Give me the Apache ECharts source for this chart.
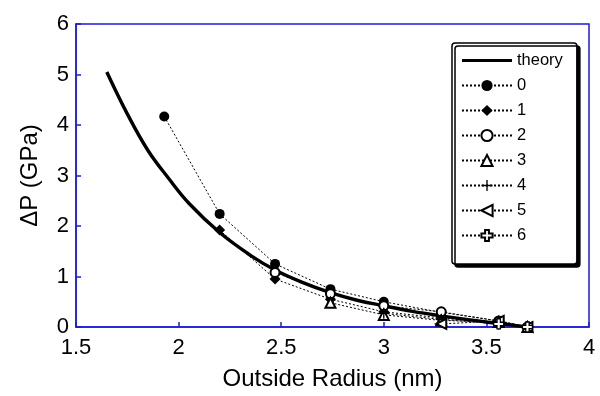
<!DOCTYPE html>
<html>
<head>
<meta charset="utf-8">
<script src="https://cdn.jsdelivr.net/npm/echarts@6/dist/echarts.min.js"></script>
<style>
  html, body { margin: 0; padding: 0; background: #fff; }
  #chart { width: 600px; height: 396px; }
</style>
</head>
<body>
<div id="chart"></div>
<script>
// theory curve
const theoryR = [1.65, 1.75, 1.85, 1.95, 2.05, 2.2, 2.35, 2.47, 2.6, 2.74, 2.87, 3.0, 3.14, 3.28, 3.42, 3.56, 3.7];
const theoryP = [5.05, 4.22, 3.5, 2.95, 2.45, 1.87, 1.42, 1.13, 0.89, 0.68, 0.53, 0.42, 0.31, 0.22, 0.14, 0.07, 0];

// simulated points; null = no point at that radius
const radii = [1.93, 2.2, 2.47, 2.74, 3.0, 3.28, 3.56, 3.7];
const s0 = [4.17, 2.24, 1.25, 0.75, 0.5, 0.29, 0.12, 0];
const s1 = [null, 1.92, 0.95, 0.55, 0.3, 0.18, 0.07, 0];
const s2 = [null, null, 1.08, 0.66, 0.42, 0.3, 0.12, 0];
const s3 = [null, null, null, 0.48, 0.24, 0.13, 0.1, 0];
const s4 = [null, null, null, null, 0.27, 0.15, 0.06, 0];
const s5 = [null, null, null, null, null, 0.06, 0.12, 0];
const s6 = [null, null, null, null, null, null, 0.06, 0];
const seriesNames = ['0', '1', '2', '3', '4', '5', '6'];
const seriesVals = [s0, s1, s2, s3, s4, s5, s6];

const BLUE = '#1c1cd6';
const FONT = 'Liberation Sans';

const plusPath = 'path://M4.4,0 L5.6,0 L5.6,4.4 L10,4.4 L10,5.6 L5.6,5.6 L5.6,10 L4.4,10 L4.4,5.6 L0,5.6 L0,4.4 L4.4,4.4 Z';
const crossPath = 'path://M3.3,0 L6.7,0 L6.7,3.3 L10,3.3 L10,6.7 L6.7,6.7 L6.7,10 L3.3,10 L3.3,6.7 L0,6.7 L0,3.3 L3.3,3.3 Z';
// plain thick line for the theory legend entry
const thickLine = 'path://M0,0 L50,0 L50,3.2 L0,3.2 Z';

const markers = [
  { symbol: 'circle', size: 10, item: { color: '#000' } },
  { symbol: 'diamond', size: 11, item: { color: '#000' } },
  { symbol: 'emptyCircle', size: 9, item: { color: '#000', borderWidth: 1.2 } },
  { symbol: 'emptyTriangle', size: 10, item: { color: '#000', borderWidth: 1.2 } },
  { symbol: plusPath, size: 11, item: { color: '#000' } },
  { symbol: 'emptyTriangle', size: 10, rotate: 90, item: { color: '#000', borderWidth: 1.2 } },
  { symbol: crossPath, size: 10, item: { color: '#fff', borderColor: '#000', borderWidth: 1.3 } }
];

const pairs = (xs, ys) => xs.map((x, i) => [x, ys[i]]).filter(p => p[1] !== null);

const chart = echarts.init(document.getElementById('chart'), null, { renderer: 'canvas' });

const series = [{
  name: 'theory', type: 'line', smooth: 0.4, symbol: 'none',
  data: pairs(theoryR, theoryP),
  lineStyle: { width: 3.4, color: '#000' },
  itemStyle: { color: '#000' },
  z: 3
}].concat(seriesNames.map((n, k) => ({
  name: n, type: 'line',
  data: pairs(radii, seriesVals[k]),
  symbol: markers[k].symbol,
  symbolSize: markers[k].size,
  symbolRotate: markers[k].rotate || 0,
  showAllSymbol: true,
  itemStyle: markers[k].item,
  lineStyle: { width: 1, color: '#000', type: [2, 2] },
  z: 4 + k
})));

chart.setOption({
  animation: false,
  textStyle: { fontFamily: FONT, color: '#000' },
  grid: {
    left: 76, right: 11, top: 24, bottom: 65,
    show: true, borderColor: BLUE, borderWidth: 1.5, backgroundColor: 'transparent'
  },
  legend: {
    orient: 'vertical', left: 452, top: 43,
    padding: [9, 14, 20, 9],
    itemWidth: 50, itemHeight: 14, itemGap: 8, textGap: 5,
    symbolKeepAspect: true,
    backgroundColor: '#fff', borderColor: '#000', borderWidth: 1.5, borderRadius: 3,
    shadowColor: '#000', shadowBlur: 0, shadowOffsetX: 3, shadowOffsetY: 3,
    textStyle: { fontFamily: FONT, fontSize: 16.5, color: '#000' },
    data: [{ name: 'theory', icon: thickLine, itemStyle: { color: '#000' } }].concat(seriesNames)
  },
  xAxis: {
    type: 'value', min: 1.5, max: 4, interval: 0.5,
    name: 'Outside Radius (nm)', nameLocation: 'middle', nameGap: 40,
    nameTextStyle: { fontFamily: FONT, fontSize: 24, color: '#000' },
    axisLine: { lineStyle: { color: BLUE, width: 1.5 } },
    axisTick: { inside: true, length: 5, lineStyle: { color: BLUE, width: 1.5 } },
    axisLabel: { fontFamily: FONT, fontSize: 22, color: '#000', margin: 10 },
    splitLine: { show: false }
  },
  yAxis: {
    type: 'value', min: 0, max: 6, interval: 1,
    name: 'ΔP (GPa)', nameLocation: 'middle', nameGap: 34, nameRotate: 90,
    nameTextStyle: { fontFamily: FONT, fontSize: 24, color: '#000' },
    axisLine: { lineStyle: { color: BLUE, width: 1.5 } },
    axisTick: { inside: true, length: 5, lineStyle: { color: BLUE, width: 1.5 } },
    axisLabel: { fontFamily: FONT, fontSize: 22, color: '#000', margin: 7 },
    splitLine: { show: false }
  },
  series: series
});
</script>
</body>
</html>
